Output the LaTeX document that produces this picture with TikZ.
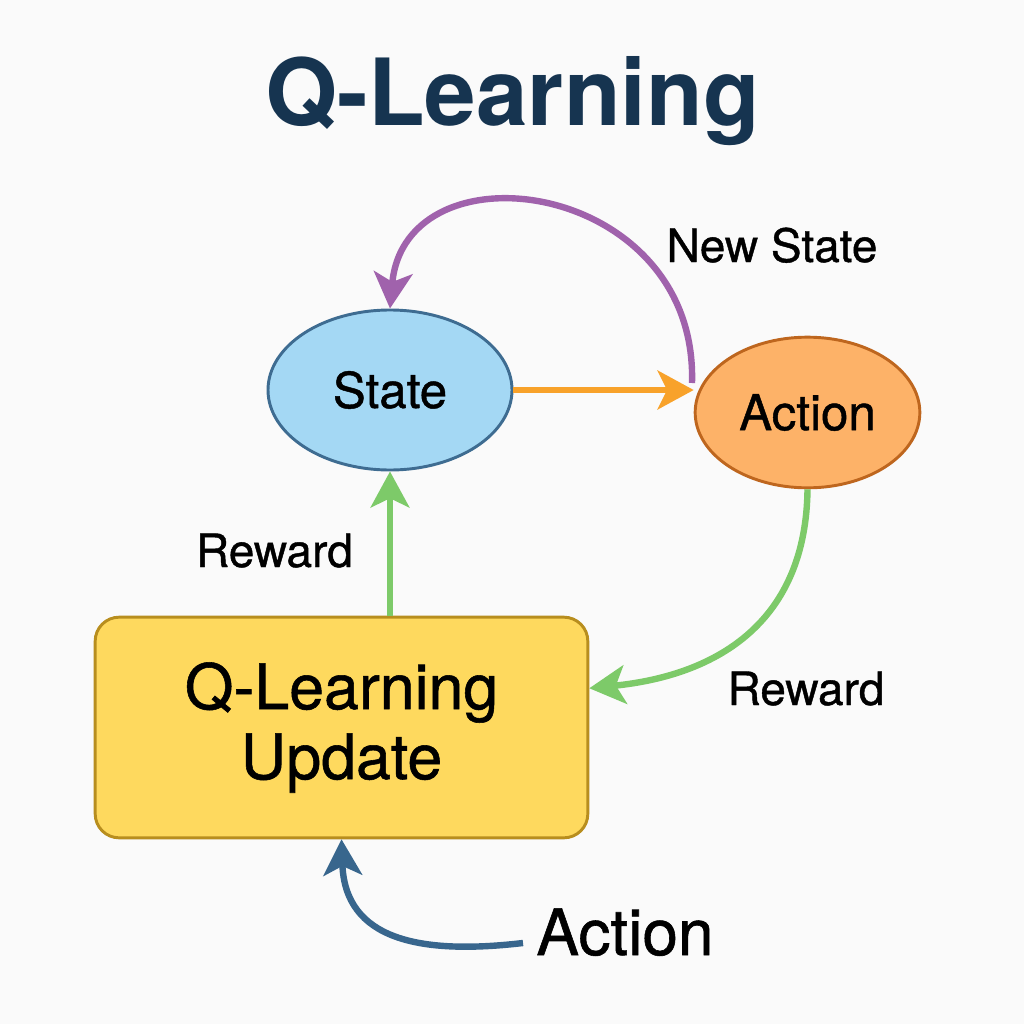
\documentclass[tikz,border=0pt]{standalone}
\usepackage{fontspec}
\setmainfont{TeX Gyre Heros}
\newfontfamily\medfont{TeX Gyre Heros}[FakeBold=0.9]
\usetikzlibrary{shapes.geometric,arrows.meta}

\definecolor{titleblue}{RGB}{22,52,80}
\definecolor{statefill}{RGB}{164,216,244}
\definecolor{stateline}{RGB}{62,108,145}
\definecolor{actionfill}{RGB}{253,178,104}
\definecolor{actionline}{RGB}{190,102,30}
\definecolor{updatefill}{RGB}{254,217,94}
\definecolor{updateline}{RGB}{184,142,30}
\definecolor{arrorange}{RGB}{248,162,42}
\definecolor{arrpurple}{RGB}{160,98,172}
\definecolor{arrgreen}{RGB}{125,202,105}
\definecolor{arrblue}{RGB}{56,102,141}
\definecolor{bgcol}{RGB}{250,250,250}

\tikzset{every picture/.style={line width=0.75pt}}
\tikzset{
  statenode/.style={ellipse, draw=stateline, fill=statefill, line width=2.2pt,
    minimum width=183pt, minimum height=120pt, inner sep=0pt,
    font=\medfont\fontsize{37}{44}\selectfont},
  actionnode/.style={ellipse, draw=actionline, fill=actionfill, line width=2.2pt,
    minimum width=168.5pt, minimum height=113pt, inner sep=0pt,
    font=\medfont\fontsize{37}{44}\selectfont},
  updatenode/.style={rectangle, rounded corners=18pt, draw=updateline, fill=updatefill,
    line width=2.2pt, minimum width=369.5pt, minimum height=165.5pt, inner sep=0pt,
    align=center, font=\medfont\fontsize{47}{52.5}\selectfont},
  flowlabel/.style={anchor=base, inner sep=0pt, font=\medfont\fontsize{34.5}{40}\selectfont},
  flow/.style={line width=4.8pt, -{Stealth[length=27pt,width=29pt,inset=7pt]}},
}

\begin{document}
\begin{tikzpicture}[x=0.75pt,y=0.75pt,yscale=-1,xscale=1]
%set diagram to 1024 x 1024
\fill [bgcol] (0,0) rectangle (1024,1024);

% Title
\node (title) [anchor=base, inner sep=0pt, text=titleblue, font=\fontsize{69.5}{80}\selectfont\bfseries] at (512.5,125) {Q-Learning};

%Shape: Ellipse
\node (state) [statenode] at (390,390) {State};
%Shape: Ellipse
\node (action) [actionnode] at (807.5,412.5) {Action};
%Shape: Rectangle
\node (update) [updatenode] at (341.5,727.5) {Q-Learning\\Update};

% Text Node
\node (newstate) [flowlabel] at (772,262) {New State};
% Text Node
\node (rewardleft) [flowlabel] at (274.5,567) {Reward};
% Text Node
\node (rewardright) [flowlabel] at (806,705) {Reward};
% Text Node
\node (actlabel) [anchor=base, inner sep=0pt, font=\medfont\fontsize{48}{56}\selectfont] at (625,955) {Action};

\coordinate (nsstart) at (692,383);
\coordinate (actstart) at (523,943);

% Arrows
\draw [flow, arrorange] (state.east) -- (state.east -| action.west);
\draw [flow, arrpurple] (nsstart) .. controls (698,180) and (405,140) .. (state.north);
\draw [flow, arrgreen] (state.south |- update.north) -- (state.south);
\draw [flow, arrgreen] (action.south) .. controls (806,620) and (720,675) .. (update.9);
\draw [flow, arrblue] (actstart) .. controls (420,955) and (345,940) .. (update.south);

\end{tikzpicture}
\end{document}
